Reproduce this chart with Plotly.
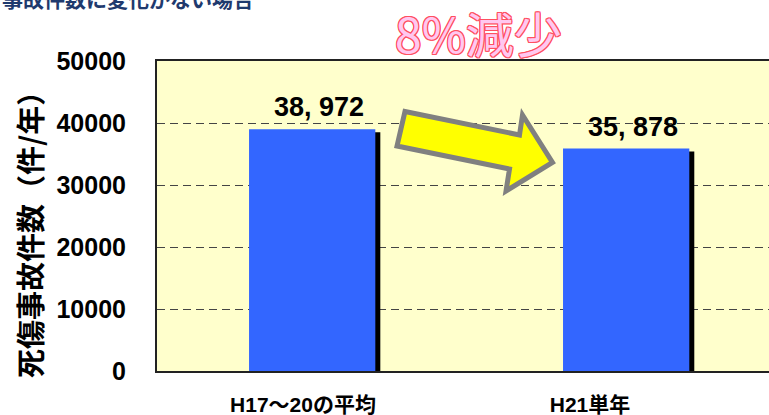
import plotly.graph_objects as go

categories = ["H17～20の平均", "H21単年"]
values = [38972, 35878]
bar_labels = [f"{v:,}".replace(",", ", ") for v in values]
y_ticks = [0, 10000, 20000, 30000, 40000, 50000]
title_text = "事故件数に変化がない場合"
callout_text = "8%減少"
y_title = "死傷事故件数（件/年）"

W, H = 769, 415
L, R, T, B = 157, 0, 61, 44
FONT = "Liberation Sans, Arial, Noto Sans CJK JP, sans-serif"
CJK = "Noto Sans CJK JP, sans-serif"

bar_width = 0.44
bar_offsets = [-0.188, -0.094]
shadow_dx = 0.0174
shadow_dy = 484

fig = go.Figure()
fig.add_trace(go.Bar(
    x=categories, y=values, base=[-shadow_dy] * len(values),
    width=bar_width, offset=[o + shadow_dx for o in bar_offsets],
    marker=dict(color="#000000", line=dict(width=0)),
    hoverinfo="skip", showlegend=False,
))
fig.add_trace(go.Bar(
    x=categories, y=values,
    width=bar_width, offset=bar_offsets,
    marker=dict(color="#3366FF", line=dict(width=0)),
    showlegend=False,
))

for i, (v, lab) in enumerate(zip(values, bar_labels)):
    fig.add_annotation(
        x=i + bar_offsets[i] + bar_width / 2, y=v, xref="x", yref="y",
        text=f"<b>{lab}</b>", showarrow=False, yanchor="bottom",
        xshift=7, yshift=5,
        font=dict(family=FONT, size=27, color="#000000"),
    )

# decorative arrow (paper coordinates derived from pixel positions)
pw, ph = W - L - R, H - T - B
def px(x, y):
    return (x - L) / pw, (H - B - y) / ph
pts = [(405, 111.5), (519.5, 135), (522.5, 115), (552.5, 162.5),
       (506, 191), (509.5, 169), (397, 146)]
path = "M " + " L ".join(f"{px(x, y)[0]:.4f},{px(x, y)[1]:.4f}" for x, y in pts) + " Z"
fig.add_shape(type="path", path=path, xref="paper", yref="paper",
              fillcolor="#FFFF00", line=dict(color="#808080", width=5), layer="above")

oc = "#FF5060"
fig.add_annotation(
    x=(478 - L) / pw, y=(H - B - 32) / ph, xref="paper", yref="paper",
    text=callout_text, showarrow=False, xanchor="center", yanchor="middle",
    font=dict(family=CJK, size=48, color="#FFC8F0",
              shadow=f"-1px -1px 0 {oc}, 1px -1px 0 {oc}, -1px 1px 0 {oc}, 1px 1px 0 {oc}, 0 1px 0 {oc}, 0 -1px 0 {oc}, 1px 0 0 {oc}, -1px 0 0 {oc}"),
)

fig.add_annotation(
    x=0, y=1, xref="paper", yref="paper", xshift=-L, yshift=T + 2,
    text=f"<b>{title_text}</b>", showarrow=False, xanchor="left", yanchor="middle",
    font=dict(family=CJK, size=21, color="#1F3A6E"),
)

fig.add_annotation(
    x=0, y=0.5, xref="paper", yref="paper", xshift=-(L - 29), yshift=-12,
    text=f"<b>{y_title}</b>", showarrow=False, textangle=-90,
    xanchor="center", yanchor="middle",
    font=dict(family=CJK, size=29, color="#000000"),
)

fig.update_layout(
    width=W, height=H,
    margin=dict(l=L, r=R, t=T, b=B, pad=0),
    paper_bgcolor="#FFFFFF", plot_bgcolor="#FFFFCC",
    barmode="overlay", showlegend=False,
    xaxis=dict(
        type="category", range=[-0.5087, 1.6237],
        showline=True, linecolor="#222222", linewidth=2, mirror=True,
        showgrid=False, ticks="", zeroline=False,
        tickfont=dict(family=FONT, size=21, color="#000000"),
        ticklabelstandoff=14,
        tickvals=categories, ticktext=[f"<b>{c}</b>" for c in categories],
    ),
    yaxis=dict(
        range=[0, 50000], tickvals=y_ticks,
        ticktext=[f"<b>{t}</b>" for t in y_ticks],
        showline=True, linecolor="#222222", linewidth=2, mirror=False,
        showgrid=True, gridcolor="#444444", gridwidth=1, griddash="8px,5px",
        zeroline=False, ticks="inside", ticklen=5, tickcolor="#444444",
        tickfont=dict(family=FONT, size=25, color="#000000"),
        ticklabelstandoff=24,
    ),
)

fig.write_html(
    "out.html",
    config={"displayModeBar": False},
    post_script="document.body.style.margin='0';document.body.style.overflow='hidden';",
)
